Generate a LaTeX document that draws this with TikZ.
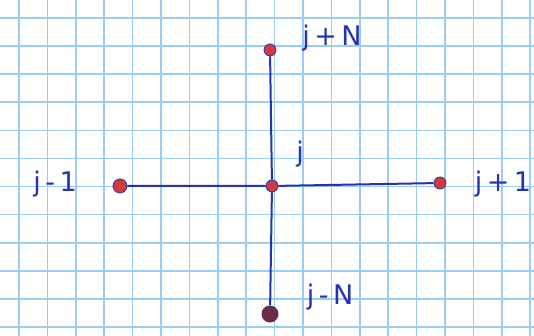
\documentclass[tikz,border=0pt]{standalone}
\usepackage{fontspec}
\setmainfont{DejaVu Sans}
\definecolor{gridblue}{HTML}{9CCCF2}
\definecolor{ink}{HTML}{2434B0}
\definecolor{dotred}{HTML}{D03A3A}
\definecolor{dotmaroon}{HTML}{6A2C48}
\begin{document}
\begin{tikzpicture}[x=1pt,y=-1pt,
  edge/.style={draw=ink,line width=2pt},
  dotnode/.style={circle,fill=dotred,draw=ink,line width=0.8pt,inner sep=0pt,minimum size=12pt},
  lab/.style={text=ink,font=\fontsize{27}{30}\selectfont,inner sep=0pt}]
\useasboundingbox (0,0) rectangle (534,336);
\fill[white] (0,0) rectangle (534,336);
\foreach \k in {0,...,18} {\draw[gridblue,line width=1.6pt] ({19+28.4*\k},0) -- ({19+28.4*\k},336);}
\foreach \k in {0,...,11} {\draw[gridblue,line width=1.6pt] (0,{18+28.1*\k}) -- (534,{18+28.1*\k});}
\node[dotnode] (c) at (272,186) {};
\node[dotnode,minimum size=14pt] (l) at (120,186) {};
\node[dotnode] (r) at (440,183) {};
\node[dotnode] (t) at (270,50) {};
\node[circle,fill=dotmaroon,inner sep=0pt,minimum size=17pt] (b) at (270,314) {};
\draw[edge] (l) -- (c) -- (r);
\draw[edge] (t) -- (c) -- (b);
\node[lab] (lt) at (332,38) {j\,+\,N};
\node[lab] (lc) at (300,154) {j};
\node[lab] (ll) at (55,184) {j\,-\,1};
\node[lab] (lr) at (503,184) {j\,+\,1};
\node[lab] (lb) at (330,297) {j\,-\,N};
\end{tikzpicture}
\end{document}
